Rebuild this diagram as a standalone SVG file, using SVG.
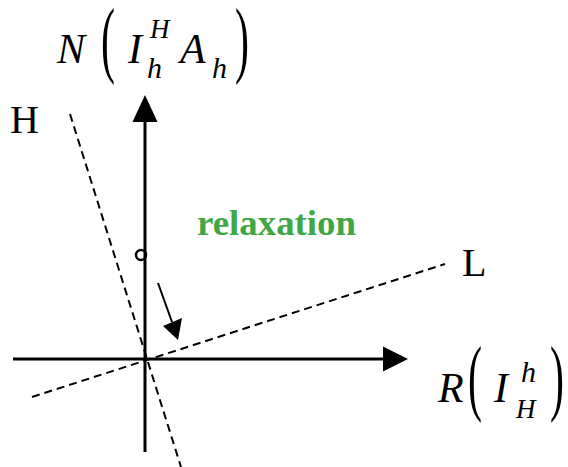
<svg xmlns="http://www.w3.org/2000/svg" width="568" height="467" viewBox="0 0 568 467">
<style>
.axis{stroke:#000;stroke-width:3;fill:none}
.dash{stroke:#000;stroke-width:2;stroke-dasharray:8 5;fill:none}
</style>
<rect width="568" height="467" fill="#fff"/>
<g id="connectors">
<line class="dash" x1="70" y1="114" x2="181" y2="467"/>
<line class="dash" x1="32" y1="397" x2="445" y2="264"/>
<line class="axis" x1="145" y1="452" x2="145" y2="120"/>
<path d="M145,95L157.5,122L132.5,122Z" fill="#000"/>
<line class="axis" x1="13" y1="359" x2="385" y2="359"/>
<path d="M408,359L383,346.5L383,371.5Z" fill="#000"/>
<line x1="158" y1="283" x2="172" y2="322" stroke="#000" stroke-width="2"/>
<path d="M178,340L163,326L182,318Z" fill="#000"/>
</g>
<g id="point"><circle cx="141" cy="255" r="5" fill="none" stroke="#000" stroke-width="2.5"/></g>
<g id="label-H"><text x="10" y="133" font-size="40" font-family="Liberation Serif, serif">H</text></g>
<g id="label-L"><text x="462" y="276" font-size="40" font-family="Liberation Serif, serif">L</text></g>
<g id="label-relax"><text x="197" y="235" font-size="36" font-weight="bold" fill="#3fa845" font-family="Liberation Serif, serif" textLength="159" lengthAdjust="spacingAndGlyphs">relaxation</text></g>
<g id="label-N" font-family="Liberation Serif, serif">
<text x="57" y="63" font-size="42" font-style="italic">N</text>
<text x="101" y="67" font-size="84" textLength="14" lengthAdjust="spacingAndGlyphs">(</text>
<text x="128" y="63" font-size="42" font-style="italic">I</text>
<text x="150" y="38" font-size="27" font-style="italic">H</text>
<text x="147" y="78" font-size="30" font-style="italic">h</text>
<text x="180" y="63" font-size="42" font-style="italic">A</text>
<text x="212" y="78" font-size="30" font-style="italic">h</text>
<text x="235" y="67" font-size="84" textLength="14" lengthAdjust="spacingAndGlyphs">)</text>
</g>
<g id="label-R" font-family="Liberation Serif, serif">
<text x="438" y="402" font-size="42" font-style="italic">R</text>
<text x="468" y="405" font-size="84" textLength="14" lengthAdjust="spacingAndGlyphs">(</text>
<text x="494" y="402" font-size="42" font-style="italic">I</text>
<text x="521" y="382" font-size="30" font-style="italic">h</text>
<text x="516" y="418" font-size="27" font-style="italic">H</text>
<text x="550" y="405" font-size="84" textLength="14" lengthAdjust="spacingAndGlyphs">)</text>
</g>
</svg>
